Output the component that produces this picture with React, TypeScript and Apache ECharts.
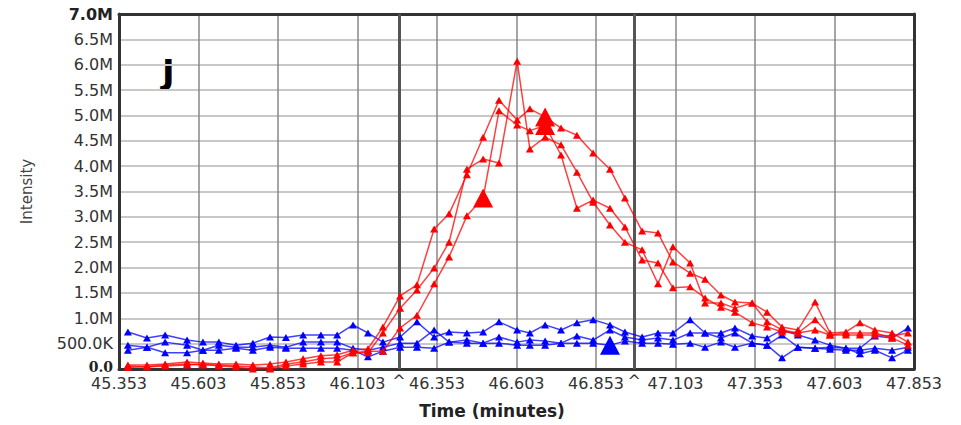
import React, { useEffect, useRef } from "react";
import * as echarts from "echarts";

// Retention times (minutes), shared by all traces
const times = [45.381, 45.441, 45.498, 45.567, 45.617, 45.667, 45.721, 45.774, 45.828, 45.878, 45.932, 45.988, 46.039, 46.089, 46.136, 46.183, 46.237, 46.29, 46.344, 46.391, 46.447, 46.498, 46.548, 46.605, 46.645, 46.693, 46.743, 46.793, 46.844, 46.897, 46.944, 46.998, 47.048, 47.095, 47.149, 47.196, 47.246, 47.29, 47.344, 47.391, 47.438, 47.488, 47.542, 47.589, 47.639, 47.683, 47.73, 47.784, 47.834];

// Intensities in millions
const red1 = [0.08, 0.08, 0.1, 0.14, 0.12, 0.1, 0.1, 0.08, 0.1, 0.14, 0.2, 0.26, 0.28, 0.37, 0.4, 0.83, 1.44, 1.66, 2.76, 3.06, 3.83, 4.57, 5.3, 4.91, 5.13, 4.97, 4.75, 4.61, 4.26, 3.94, 3.37, 2.72, 2.68, 2.11, 1.89, 1.77, 1.46, 1.32, 1.3, 1.12, 0.83, 0.77, 1.32, 0.71, 0.73, 0.91, 0.77, 0.71, 0.53];
const red2 = [0.03, 0.05, 0.08, 0.1, 0.08, 0.08, 0.06, 0.04, 0.02, 0.1, 0.14, 0.2, 0.22, 0.32, 0.32, 0.71, 1.2, 1.56, 1.99, 2.5, 3.94, 4.14, 4.06, 6.07, 4.34, 4.57, 4.42, 3.88, 3.29, 2.84, 2.5, 2.35, 1.68, 2.41, 2.09, 1.3, 1.3, 1.2, 1.3, 0.93, 0.77, 0.71, 0.97, 0.67, 0.71, 0.71, 0.71, 0.61, 0.47];
const red3 = [0.06, 0.04, 0.06, 0.08, 0.1, 0.06, 0.04, 0.0, 0.0, 0.06, 0.1, 0.14, 0.14, 0.32, 0.35, 0.35, 0.81, 1.06, 1.68, 2.21, 3.02, 3.37, 5.09, 4.81, 4.7, 4.8, 4.22, 3.17, 3.33, 3.17, 2.8, 2.15, 2.09, 1.6, 1.62, 1.4, 1.22, 1.12, 0.91, 0.83, 0.73, 0.71, 0.77, 0.67, 0.67, 0.67, 0.67, 0.65, 0.71];
const blue1 = [0.73, 0.61, 0.67, 0.57, 0.53, 0.53, 0.47, 0.51, 0.63, 0.62, 0.67, 0.67, 0.67, 0.87, 0.71, 0.53, 0.63, 0.93, 0.63, 0.73, 0.71, 0.73, 0.93, 0.77, 0.71, 0.87, 0.77, 0.91, 0.97, 0.87, 0.73, 0.63, 0.71, 0.71, 0.97, 0.71, 0.71, 0.81, 0.65, 0.61, 0.77, 0.67, 0.57, 0.47, 0.41, 0.41, 0.65, 0.61, 0.81];
const blue2 = [0.47, 0.43, 0.53, 0.47, 0.37, 0.47, 0.43, 0.43, 0.47, 0.43, 0.53, 0.53, 0.53, 0.41, 0.37, 0.43, 0.51, 0.51, 0.77, 0.53, 0.57, 0.51, 0.63, 0.53, 0.57, 0.55, 0.51, 0.65, 0.57, 0.77, 0.63, 0.57, 0.61, 0.57, 0.71, 0.71, 0.61, 0.71, 0.51, 0.47, 0.67, 0.43, 0.41, 0.39, 0.37, 0.37, 0.41, 0.37, 0.43];
const blue3 = [0.37, 0.43, 0.32, 0.32, 0.37, 0.37, 0.41, 0.37, 0.43, 0.41, 0.41, 0.41, 0.41, 0.37, 0.24, 0.35, 0.43, 0.43, 0.41, 0.53, 0.51, 0.51, 0.51, 0.47, 0.47, 0.47, 0.51, 0.51, 0.51, 0.47, 0.55, 0.51, 0.51, 0.49, 0.51, 0.43, 0.53, 0.43, 0.51, 0.47, 0.22, 0.43, 0.41, 0.43, 0.41, 0.3, 0.37, 0.22, 0.37];

// Apex (peak-pick) points, as indices into the traces
const apexRed1 = [25];
const apexRed3 = [21, 25];
const apexBlue3 = [29];

// Boundary markers (minutes) and axis range
const boundaryTimes = [46.23, 46.972];
const timeStart = 45.353;
const timeSpan = 2.5;
const timeStep = 0.25;
const intensityMax = 7;
const intensityStep = 0.5;

const RED = "#ff0000";
const BLUE = "#0000ff";
const FONT = "DejaVu Sans";
const FRAME = { show: true, onZero: false, lineStyle: { color: "#333", width: 3 } };

function buildSeries(name: string, values: number[], color: string, apex: number[]) {
  return {
    name,
    type: "line",
    data: values.map((v, i) => ({
      value: [times[i] - timeStart, v],
      symbolSize: apex.includes(i) ? [20, 19] : [8, 7],
    })),
    symbol: "triangle",
    lineStyle: { color, width: 1.5, opacity: 0.75 },
    itemStyle: { color },
    z: color === RED ? 12 : 11,
  };
}

export default function App() {
  const ref = useRef<HTMLDivElement>(null);
  useEffect(() => {
    if (!ref.current) return;
    const chart = echarts.init(ref.current, null, { renderer: "svg" });
    const option: any = {
      animation: false,
      backgroundColor: "#ffffff",
      grid: { left: 119, right: 47, top: 14, bottom: 56 },
      xAxis: [
        {
          type: "value",
          min: 0,
          max: timeSpan,
          interval: timeStep,
          name: "Time (minutes)",
          nameLocation: "middle",
          nameGap: 33,
          nameTextStyle: { fontFamily: FONT, fontSize: 17, fontWeight: "bold", color: "#222", padding: [0, 49, 0, 0] },
          axisLine: FRAME,
          axisTick: { show: false },
          axisLabel: {
            fontFamily: FONT,
            fontSize: 16,
            color: "#333",
            margin: 6,
            showMinLabel: true,
            showMaxLabel: true,
            formatter: (v: number) => (v + timeStart).toFixed(3),
          },
          splitLine: { show: true, lineStyle: { color: "#888", width: 1.5 } },
        },
        {
          type: "value",
          position: "top",
          min: 0,
          max: timeSpan,
          axisLine: FRAME,
          axisTick: { show: false },
          axisLabel: { show: false },
          splitLine: { show: false },
        },
      ],
      yAxis: [
        {
          type: "value",
          min: 0,
          max: intensityMax,
          interval: intensityStep,
          name: "Intensity",
          nameLocation: "middle",
          nameRotate: 90,
          nameGap: 85,
          nameTextStyle: { fontFamily: FONT, fontSize: 15, color: "#444" },
          axisLine: FRAME,
          axisTick: { show: false },
          axisLabel: {
            fontFamily: FONT,
            fontSize: 16,
            color: "#333",
            margin: 6,
            formatter: (v: number) => {
              if (v === 0) return "{z|0.0}";
              if (v >= intensityMax) return "{b|" + v.toFixed(1) + "M}";
              if (v < 1) return (v * 1000).toFixed(1) + "K";
              return v.toFixed(1) + "M";
            },
            rich: {
              z: { fontFamily: "DejaVu Serif", fontWeight: "bold", fontSize: 14, color: "#222", padding: [0, 0, 5, 0] },
              b: { fontFamily: FONT, fontWeight: "bold", fontSize: 16, color: "#222" },
            },
          },
          splitLine: { show: true, lineStyle: { color: "#c8c8c8", width: 2 } },
        },
        {
          type: "value",
          position: "right",
          min: 0,
          max: intensityMax,
          axisLine: FRAME,
          axisTick: { show: false },
          axisLabel: { show: false },
          splitLine: { show: false },
        },
      ],
      graphic: [
        {
          type: "text",
          left: 162,
          top: 55,
          style: { text: "J", font: "bold 34px 'DejaVu Sans'", fill: "#000" },
        },
      ],
      series: [
        buildSeries("blue1", blue1, BLUE, []),
        buildSeries("blue2", blue2, BLUE, []),
        {
          ...buildSeries("blue3", blue3, BLUE, apexBlue3),
          markLine: {
            silent: true,
            symbol: "none",
            z: 1,
            lineStyle: { color: "#555", width: 3, type: "solid" },
            label: {
              show: true,
              position: "start",
              formatter: "^",
              fontFamily: FONT,
              fontSize: 16,
              color: "#333",
              distance: 3,
            },
            data: boundaryTimes.map((t) => ({ xAxis: t - timeStart })),
          },
        },
        buildSeries("red1", red1, RED, apexRed1),
        buildSeries("red2", red2, RED, []),
        buildSeries("red3", red3, RED, apexRed3),
      ],
    };
    chart.setOption(option);
    return () => chart.dispose();
  }, []);
  return (
    <div
      ref={ref}
      style={{ position: "absolute", left: 0, top: 0, width: 961, height: 425 }}
    />
  );
}
